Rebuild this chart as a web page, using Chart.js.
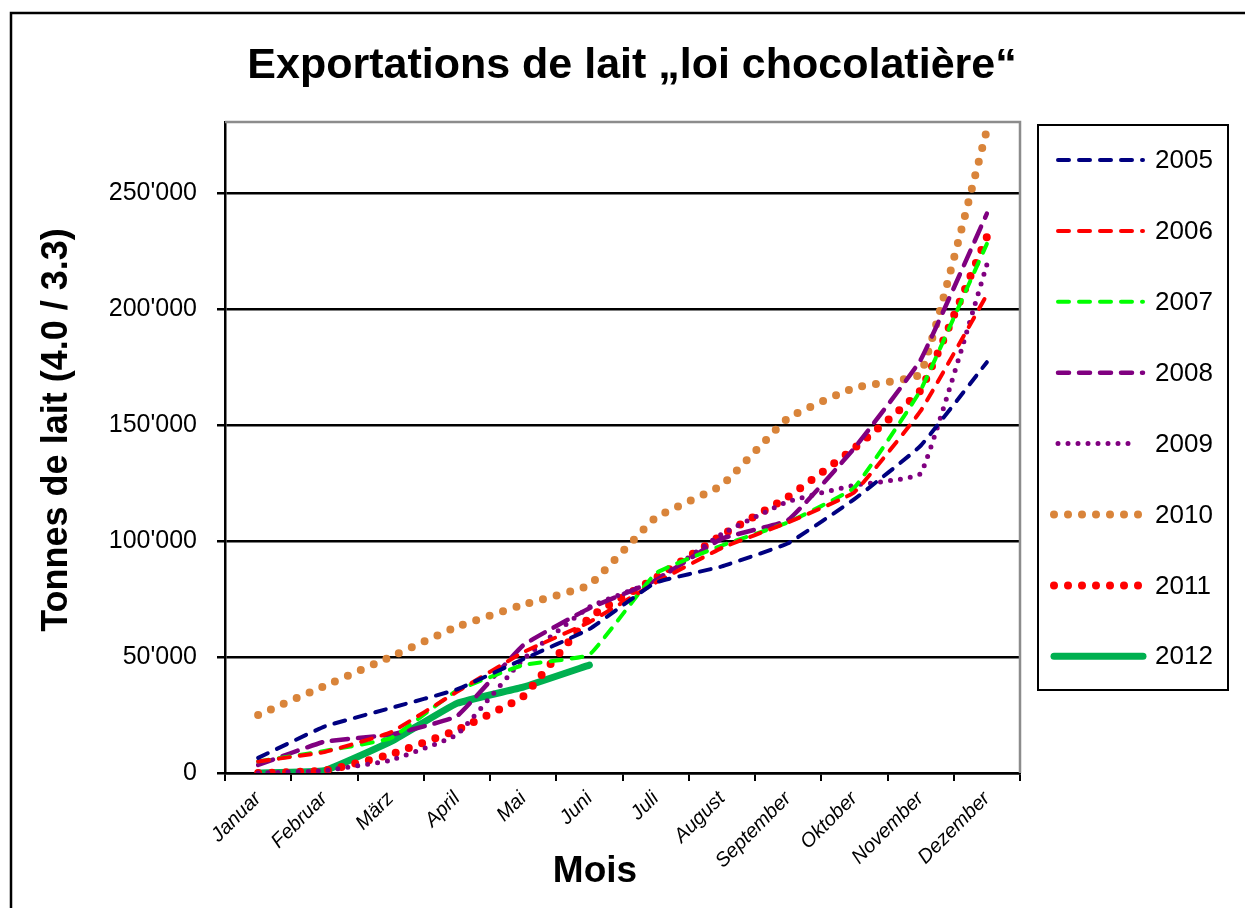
<!DOCTYPE html>
<html>
<head>
<meta charset="utf-8">
<script src="https://cdn.jsdelivr.net/npm/chart.js@4"></script>
<style>
  html, body { margin: 0; padding: 0; background: #fff; }
  #wrap { width: 1245px; height: 908px; }
</style>
</head>
<body>
<div id="wrap"><canvas id="lait"></canvas></div>
<script>
// Mois et exportations (tonnes) par année
const mois = ['Januar', 'Februar', 'März', 'April', 'Mai', 'Juni', 'Juli', 'August', 'September', 'Oktober', 'November', 'Dezember'];
const annees = ['2005', '2006', '2007', '2008', '2009', '2010', '2011', '2012'];

const v2005 = [6500, 20000, 28000, 36000, 49000, 62000, 82000, 89000, 99000, 118000, 141000, 177000];
const v2006 = [5000, 9000, 17500, 35000, 52000, 65000, 82000, 97000, 108000, 121000, 156000, 206000];
const v2007 = [5000, 9500, 15000, 35500, 46500, 51000, 86000, 98000, 108000, 123000, 165000, 228000];
const v2008 = [3500, 13500, 16500, 24500, 55000, 71000, 83000, 101000, 109000, 140000, 178000, 241000];
const v2009 = [0, 1000, 5500, 16500, 49000, 71500, 83000, 103000, 117000, 124000, 129000, 219000];
const v2010 = [25000, 37500, 50000, 63000, 72500, 81000, 110000, 124000, 153000, 166000, 172000, 277000];
const v2011 = [0, 1000, 8000, 18500, 33000, 67000, 84000, 102500, 119000, 140000, 165000, 231000];
const v2012 = [0, 1000, 13500, 30000, 37000, 46500];

const yTicks = [0, 50000, 100000, 150000, 200000, 250000];

const police = '"Liberation Sans", Arial, sans-serif';

function format(v) {
    return String(v).replace(/\B(?=(\d{3})+(?!\d))/g, "'");
}

// cadre, titres et légende dessinés à la main
const decor = {
    id: 'decor',
    beforeDraw(chart) {
        const c = chart.ctx;
        c.save();
        c.fillStyle = '#fff';
        c.fillRect(0, 0, chart.width, chart.height);
        c.strokeStyle = '#000';
        c.lineWidth = 2.5;
        c.strokeRect(11, 13, 1400, 1100);
        c.restore();
    },
    beforeDatasetsDraw(chart) {
        const a = chart.chartArea;
        const c = chart.ctx;
        c.save();
        c.strokeStyle = '#8c8c8c';
        c.lineWidth = 2.5;
        c.beginPath();
        c.moveTo(a.left, a.top);
        c.lineTo(a.right, a.top);
        c.lineTo(a.right, a.bottom);
        c.stroke();
        c.restore();
    },
    afterDraw(chart) {
        const c = chart.ctx;
        c.save();
        c.fillStyle = '#000';
        c.textAlign = 'center';
        c.textBaseline = 'middle';
        c.font = 'bold 43px ' + police;
        c.fillText('Exportations de lait \u201Eloi chocolatière\u201C', 632, 66);
        c.font = 'bold 37px ' + police;
        c.fillText('Mois', 595, 872);
        c.translate(57, 430);
        c.rotate(-Math.PI / 2);
        c.font = 'bold 36px ' + police;
        c.fillText('Tonnes de lait (4.0 / 3.3)', 0, 0);
        c.restore();

        // légende
        c.save();
        c.strokeStyle = '#000';
        c.lineWidth = 2;
        c.strokeRect(1038, 125, 190, 565);
        chart.data.datasets.forEach((ds, i) => {
            const y = 160 + i * 70.9;
            c.beginPath();
            c.strokeStyle = ds.borderColor;
            c.lineWidth = ds.borderWidth;
            c.lineCap = ds.borderCapStyle || 'butt';
            c.setLineDash(ds.label === '2008' ? [11, 10] : (ds.borderDash || []));
            c.moveTo(ds.label === '2010' || ds.label === '2011' || ds.label === '2012' ? 1054 : 1058, y);
            c.lineTo(ds.label === '2009' ? 1132 : 1143, y);
            c.stroke();
            c.setLineDash([]);
            c.fillStyle = '#000';
            c.font = '26px ' + police;
            c.textAlign = 'left';
            c.textBaseline = 'middle';
            c.fillText(ds.label, 1155, y + 1);
        });
        c.restore();
    }
};

const series = [v2005, v2006, v2007, v2008, v2009, v2010, v2011, v2012];
const couleurs = ['#000080', '#FF0000', '#00FF00', '#800080', '#800080', '#D9843A', '#FF0000', '#00B050'];
const largeurs = [4, 4, 4, 4.5, 5, 8, 8, 7];
const tirets = [[11, 10], [11, 10], [11, 10], [16, 10], [0, 10], [0, 14], [0, 14], []];

const ctx = document.getElementById('lait').getContext('2d');

const graphique = new Chart(ctx, {
    type: 'line',
    data: {
        labels: mois,
        datasets: annees.map((an, i) => ({
            label: an,
            data: series[i],
            borderColor: couleurs[i],
            borderWidth: largeurs[i],
            borderDash: tirets[i],
            borderCapStyle: 'round',
            borderJoinStyle: 'round',
            pointRadius: 0,
            fill: false,
            tension: 0.1
        }))
    },
    options: {
        responsive: true,
        maintainAspectRatio: false,
        animation: false,
        layout: {
            padding: { left: 0, top: 122, right: 225, bottom: 0 }
        },
        plugins: {
            legend: { display: false },
            title: { display: false },
            tooltip: { enabled: false }
        },
        scales: {
            x: {
                offset: true,
                afterFit(scale) { scale.height = 135; },
                grid: {
                    offset: true,
                    drawOnChartArea: false,
                    color: '#000',
                    lineWidth: 2,
                    tickLength: 8
                },
                border: { color: '#000', width: 2.5 },
                ticks: {
                    color: '#000',
                    maxRotation: 45,
                    minRotation: 45,
                    padding: 6,
                    font: { family: police, size: 20, style: 'italic' }
                }
            },
            y: {
                min: 0,
                max: 280500,
                afterFit(scale) { scale.width = 225; },
                afterBuildTicks(scale) {
                    scale.ticks = yTicks.map(v => ({ value: v }));
                },
                grid: {
                    color: '#000',
                    lineWidth: 2.5,
                    tickLength: 8
                },
                border: { color: '#000', width: 2.5 },
                ticks: {
                    color: '#000',
                    padding: 20,
                    font: { family: police, size: 25 },
                    callback: v => format(v)
                }
            }
        }
    },
    plugins: [decor]
});
</script>
</body>
</html>
